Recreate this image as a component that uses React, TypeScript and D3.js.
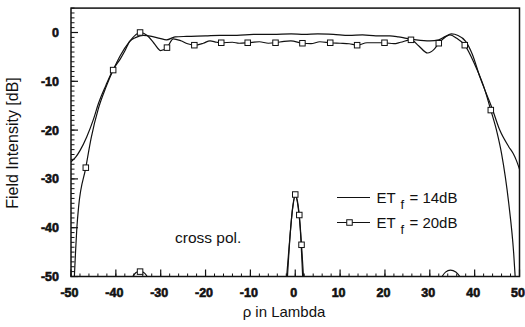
import React from "react";
import * as d3 from "d3";

// ---- data ----
const xTicks = [-50, -40, -30, -20, -10, 0, 10, 20, 30, 40, 50];
const yTicks = [0, -10, -20, -30, -40, -50];

// co-pol, ET_f = 14dB (solid)
const co14: [number, number][] = [
  [-50, -26.5], [-49, -25.6], [-48, -24.2], [-46.5, -21.4], [-45, -17.8], [-43.9, -14.6],
  [-42.2, -10.8], [-40.6, -7.6], [-39, -5.4], [-38, -3.8], [-36.9, -1.8], [-35.5, -1.0],
  [-33.9, -0.6], [-32, -0.8], [-30.2, -1.2], [-28.7, -1.5], [-26.8, -0.9], [-24.2, -0.8],
  [-20, -0.7], [-16.8, -0.6], [-13, -0.6], [-9.3, -0.4], [-5, -0.4], [-0.9, -0.3],
  [2, -0.4], [5, -0.3], [8.5, -0.4], [12, -0.6], [15, -0.5], [18, -0.7], [21.1, -0.7],
  [23, -0.9], [24.8, -1.2], [27, -1.5], [30, -1.7], [32, -1.5], [33.5, -0.8],
  [34.8, -0.3], [36.3, -0.6], [38, -1.8], [39.5, -4.5], [41.2, -9.2], [42.5, -12.3],
  [43.8, -15.3], [45.6, -20], [47.6, -23.4], [48.6, -24.8], [49.3, -26.2], [50, -28],
];

// co-pol, ET_f = 20dB (squares)
const co20: [number, number][] = [
  [-49.3, -51], [-49, -45.2], [-48.7, -40.1], [-48.3, -35.7], [-46.7, -27.7], [-45.5, -21.6],
  [-43.9, -15.6], [-42.2, -11.2], [-40.6, -7.7], [-39, -4.7], [-37, -1.9], [-34.6, 0],
  [-33, -0.6], [-31.5, -2.2], [-30, -3.7], [-28.6, -3.1], [-27.2, -1.3], [-25.5, -1.7],
  [-24, -2.3], [-22.5, -2.6], [-20.5, -2.2], [-19, -1.7], [-17.5, -2.0], [-16.5, -2.1],
  [-14, -2.0], [-12.5, -2.2], [-10.6, -2.1], [-8, -1.9], [-6, -2.2], [-4.4, -2.1],
  [-2.5, -1.8], [-1, -1.7], [1.6, -2.2], [3.5, -2.3], [5.5, -1.9], [7.8, -2.1],
  [10, -2.2], [12, -2.3], [13.8, -2.6], [16, -2.1], [18, -2.1], [19.9, -2.1],
  [22, -2.3], [23.5, -2.0], [25.8, -1.5], [27.5, -2.7], [29.5, -4.2], [31, -3.4],
  [32, -2.2], [33.5, -0.9], [34.5, -0.5], [36, -1.2], [37.8, -2.6], [40, -6.5],
  [42, -11], [43.6, -15.9], [45, -20.5], [46, -24.8], [47.6, -35], [48.7, -45.2], [49.1, -51],
];
const co20Marks: [number, number][] = [
  [-46.7, -27.7], [-40.6, -7.7], [-34.6, 0], [-28.6, -3.1], [-22.5, -2.6], [-16.5, -2.1],
  [-10.6, -2.1], [-4.4, -2.1], [1.6, -2.2], [7.8, -2.1], [13.8, -2.6], [19.9, -2.1],
  [25.8, -1.5], [32, -2.2], [37.8, -2.6], [43.6, -15.9],
];

// cross-pol segments
const x14Center: [number, number][] = [
  [-1.8, -51], [-1.1, -41], [-0.5, -35.5], [0, -33.5], [0.6, -35.5], [1.1, -40], [1.7, -51],
];
const x14Right: [number, number][] = [
  [32.4, -50.5], [33.5, -49.1], [34.6, -48.7], [35.8, -49.1], [37.1, -50.5],
];
const x20Center: [number, number][] = [
  [-2, -51], [-1.2, -42], [-0.6, -36], [0, -33.2], [0.5, -34.6], [0.9, -37.4], [1.4, -43.5], [1.9, -51],
];
const x20Left: [number, number][] = [
  [-36.6, -50.5], [-35.5, -49.2], [-34.6, -48.9], [-33.6, -49.3], [-32.7, -50.5],
];
const x20Marks: [number, number][] = [
  [-34.6, -49], [0, -33.2], [0.9, -37.4], [1.4, -43.5],
];

// ---- layout ----
const W = 525, H = 327;
const L = 71, R = 519.5, T = 8.1, B = 276.5;
const ink = "#111";
const tickFont = "'Liberation Sans', Arial, sans-serif";

export default function App() {
  const x = d3.scaleLinear().domain([-50, 50]).range([L, R]);
  const y = d3.scaleLinear().domain([-50, 5]).range([B, T]);
  const line = d3
    .line<[number, number]>()
    .x((d) => x(d[0]))
    .y((d) => y(d[1]))
    .curve(d3.curveMonotoneX);

  const xMinor = d3.range(-50, 50.01, 2);
  const yMinor = d3.range(-50, 5.01, 1);

  const sq = 5.5;
  const Square = ({ cx, cy }: { cx: number; cy: number }) => (
    <rect x={cx - sq / 2} y={cy - sq / 2} width={sq} height={sq} fill="#fff" stroke={ink} strokeWidth={1} />
  );

  return (
    <svg width={W} height={H} style={{ position: "absolute", left: 0, top: 0, background: "#fff" }}>
      <defs>
        <clipPath id="plot">
          <rect x={L} y={T} width={R - L} height={B - T} />
        </clipPath>
      </defs>
      <rect x={0} y={0} width={W} height={H} fill="#fff" />

      {/* minor ticks */}
      {xMinor.map((v) => (
        <line key={"xm" + v} x1={x(v)} x2={x(v)} y1={B} y2={B - 3} stroke={ink} strokeWidth={1} />
      ))}
      {yMinor.map((v) => (
        <line key={"ym" + v} x1={L} x2={L + 3.5} y1={y(v)} y2={y(v)} stroke={ink} strokeWidth={1} />
      ))}
      {/* major ticks */}
      {xTicks.map((v) => (
        <line key={"xM" + v} x1={x(v)} x2={x(v)} y1={B} y2={B - 7} stroke={ink} strokeWidth={1.2} />
      ))}
      {yTicks.map((v) => (
        <line key={"yM" + v} x1={L} x2={L + 7} y1={y(v)} y2={y(v)} stroke={ink} strokeWidth={1.2} />
      ))}

      {/* frame */}
      <rect x={L} y={T} width={R - L} height={B - T} fill="none" stroke={ink} strokeWidth={1.5} />

      {/* curves */}
      <g clipPath="url(#plot)" fill="none" stroke={ink} strokeWidth={1.2}>
        <path d={line(co14) || ""} />
        <path d={line(co20) || ""} />
        <path d={line(x14Center) || ""} />
        <path d={line(x14Right) || ""} />
        <path d={line(x20Center) || ""} />
        <path d={line(x20Left) || ""} />
      </g>
      {co20Marks.map((d, i) => (
        <Square key={"m" + i} cx={x(d[0])} cy={y(d[1])} />
      ))}
      {x20Marks.map((d, i) => (
        <Square key={"xm" + i} cx={x(d[0])} cy={y(d[1])} />
      ))}

      {/* tick labels */}
      {xTicks.map((v) => (
        <text key={"xl" + v} x={x(v) - 1.5} y={297} textAnchor="middle" fontFamily={tickFont}
          fontWeight="bold" fontSize={12.5} fill={ink} stroke={ink} strokeWidth={0.6}>
          {v}
        </text>
      ))}
      {yTicks.map((v) => (
        <text key={"yl" + v} x={59} y={y(v) + 4.5} textAnchor="end" fontFamily={tickFont}
          fontWeight="bold" fontSize={12.5} fill={ink} stroke={ink} strokeWidth={0.6}>
          {v}
        </text>
      ))}

      {/* axis titles */}
      <text x={284} y={317} textAnchor="middle" fontFamily={tickFont} fontSize={15} fill={ink}>
        ρ in Lambda
      </text>
      <text transform="translate(18,143) rotate(-90)" textAnchor="middle" fontFamily={tickFont}
        fontSize={16} fill={ink}>
        Field Intensity [dB]
      </text>

      {/* annotation */}
      <text x={175} y={243} fontFamily={tickFont} fontSize={15.5} fill={ink}>cross pol.</text>

      {/* legend */}
      <line x1={337} x2={370} y1={197.5} y2={197.5} stroke={ink} strokeWidth={1.2} />
      <text x={376.5} y={202.7} fontFamily={tickFont} fontSize={15} fill={ink}>
        ET<tspan x={400.5} y={209} fontSize={13}>f</tspan>
        <tspan x={409.5} y={202.7}>= 14dB</tspan>
      </text>
      <line x1={337} x2={370} y1={222.5} y2={222.5} stroke={ink} strokeWidth={1.2} />
      <Square cx={349.5} cy={222.5} />
      <text x={376.5} y={227.7} fontFamily={tickFont} fontSize={15} fill={ink}>
        ET<tspan x={400.5} y={234} fontSize={13}>f</tspan>
        <tspan x={409.5} y={227.7}>= 20dB</tspan>
      </text>
    </svg>
  );
}
